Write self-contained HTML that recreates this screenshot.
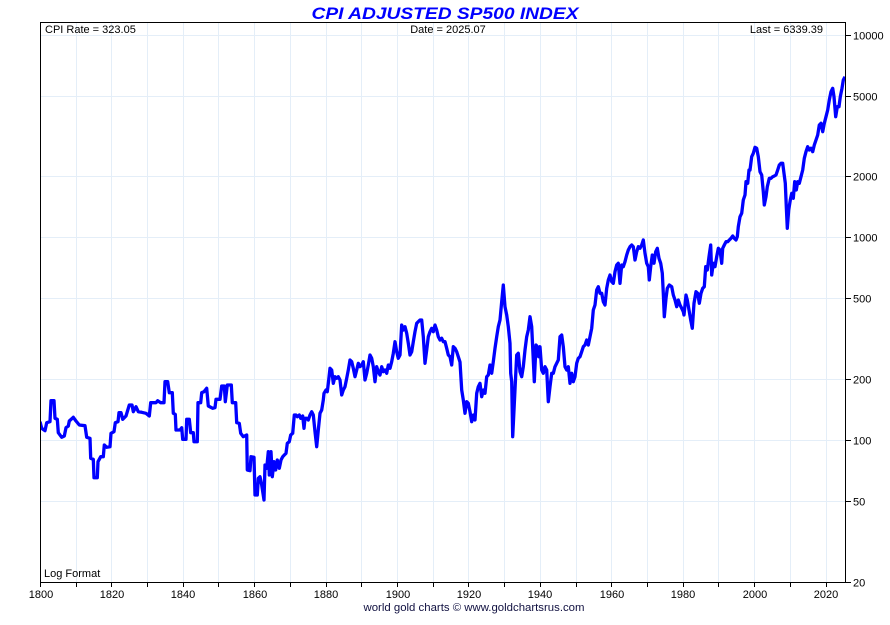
<!DOCTYPE html>
<html><head><meta charset="utf-8"><style>
html,body{margin:0;padding:0;background:#fff;}
svg{display:block;}
text{font-family:"Liberation Sans",Arial,sans-serif;}
</style></head><body>
<svg width="890" height="625" viewBox="0 0 890 625" xmlns="http://www.w3.org/2000/svg">
<defs><clipPath id="pc"><rect x="41" y="23" width="804" height="559"/></clipPath></defs>
<rect width="890" height="625" fill="#fff"/>
<g stroke="#e4eef8" stroke-width="1">
<line x1="40" y1="35.5" x2="845" y2="35.5"/>
<line x1="40" y1="96.5" x2="845" y2="96.5"/>
<line x1="40" y1="176.5" x2="845" y2="176.5"/>
<line x1="40" y1="237.5" x2="845" y2="237.5"/>
<line x1="40" y1="298.5" x2="845" y2="298.5"/>
<line x1="40" y1="379.5" x2="845" y2="379.5"/>
<line x1="40" y1="440.5" x2="845" y2="440.5"/>
<line x1="40" y1="501.5" x2="845" y2="501.5"/>
<line x1="76.5" y1="22" x2="76.5" y2="582"/>
<line x1="111.5" y1="22" x2="111.5" y2="582"/>
<line x1="147.5" y1="22" x2="147.5" y2="582"/>
<line x1="183.5" y1="22" x2="183.5" y2="582"/>
<line x1="218.5" y1="22" x2="218.5" y2="582"/>
<line x1="254.5" y1="22" x2="254.5" y2="582"/>
<line x1="290.5" y1="22" x2="290.5" y2="582"/>
<line x1="326.5" y1="22" x2="326.5" y2="582"/>
<line x1="361.5" y1="22" x2="361.5" y2="582"/>
<line x1="397.5" y1="22" x2="397.5" y2="582"/>
<line x1="433.5" y1="22" x2="433.5" y2="582"/>
<line x1="468.5" y1="22" x2="468.5" y2="582"/>
<line x1="504.5" y1="22" x2="504.5" y2="582"/>
<line x1="540.5" y1="22" x2="540.5" y2="582"/>
<line x1="576.5" y1="22" x2="576.5" y2="582"/>
<line x1="611.5" y1="22" x2="611.5" y2="582"/>
<line x1="647.5" y1="22" x2="647.5" y2="582"/>
<line x1="683.5" y1="22" x2="683.5" y2="582"/>
<line x1="718.5" y1="22" x2="718.5" y2="582"/>
<line x1="754.5" y1="22" x2="754.5" y2="582"/>
<line x1="790.5" y1="22" x2="790.5" y2="582"/>
<line x1="826.5" y1="22" x2="826.5" y2="582"/>
</g>
<polyline clip-path="url(#pc)" fill="none" stroke="#0000ff" stroke-width="3.3" stroke-linejoin="round" stroke-linecap="butt" points="40,421.7 41.7,428.3 45,430.7 46.7,422.7 50,421.7 51,400.7 54,400.7 55,418.3 57.3,419.3 58.3,432.7 61.7,437.3 64.3,436 66,427.7 68.3,426 69.3,421 73.3,417.3 76,421 79.3,425 85,425.7 86.7,437.3 90,438.3 90.7,458.3 93.3,459.3 94,477.7 97.3,477.7 98,461.7 100.7,456.7 103.3,456.7 104.3,445 106.7,447.3 110,446.7 111,433.3 114,431.7 115.3,422.7 118,421.7 119,412.7 121,412.7 122.7,419.3 126,416 129.3,405 132,405 133.3,411.7 136,406.7 138.3,411.7 141.7,412.3 146,413.3 149.3,416 150.7,402.7 156,402.7 157.7,400.7 160.7,402.7 164,402.7 165,381.7 167.7,381.7 169.3,392.7 172.3,392.7 173.3,413.3 175.3,414.3 176,430 180,430 181.7,427.7 182.7,439.3 186,439.3 186.7,419.3 189.3,419.3 190.7,432.7 193.3,432.7 194,441.7 197.3,441.7 198,402.7 200.7,402.7 201.7,392.7 204,391.7 206.7,388.3 208.3,406 212.7,408.3 215,407.7 216,399.3 220,399.3 221.7,386 224.3,386 225.3,401.7 227.3,385 231.3,385 232.3,402.7 235.7,402.7 236.7,422.7 239.3,423.3 240.7,433.3 243.3,436.7 246.7,435 247.3,470 250,470.7 251,456.7 254,457.3 255,495 257.3,495 258.3,478.3 260,476.7 261.7,485 264,500 265,465 266.7,468.3 268.3,451.7 269.3,475 271,451.7 272.3,476.7 274,461.7 275.7,470 277.3,460 279.3,468.3 281,460 282.7,456.7 284.3,455 286,453.3 287.3,443.3 289.3,441.7 290.7,435 292.7,433.3 294.3,415 296,415 297.3,416.7 299.3,415 300.7,418.3 302.7,416 304,428.3 305,418.3 306.7,418.3 308.3,420 310,415 311.7,411.7 313.3,415 315,431.7 316.7,446.7 318.3,430 320,413.3 321.7,410 323.3,400 324,393.3 326,390 327.3,391.7 328.7,380 330,368.3 331.7,370 333.3,383.3 335,376.7 336.7,378.3 338.3,376.7 340,380 341.7,395 343.3,390 345,386.7 346.7,378.3 348.3,370 350,360 351.7,361.7 353.3,368.3 355,376.7 356.7,370 358.3,363.3 360,366.7 361.7,365 363.3,361.7 365,380 366.7,373.3 368.3,365 370,355 371.7,358.3 373.3,366.7 375,381.7 376.7,366.7 378.3,371.7 380,375 381.7,366.7 383.3,371.7 385,370 386.7,373.3 388.3,365 390,368.3 391.7,361.7 393.3,353.3 395,341.7 396.7,351.7 398.3,358.3 400,355 401.7,325 403.3,330 405,326.7 406.7,333.3 408.3,343.3 410,355 411.7,351.7 413.3,341.7 415,331.7 416.7,323.3 418.3,321.7 420,320 421.7,320 423.3,336.7 425,363.3 426.7,350 428.3,336.7 430,331.7 431.7,328.3 433.3,331.7 435,325 436.7,330 438.3,336.7 440,340 441.7,338.3 443.3,341.7 445,341.7 446.7,348.3 448.3,355 450,356.7 451.7,365 453.3,346.7 455,348.3 456.7,351.7 458.3,356.7 460,362 461.7,390 463.3,400 465,413.3 466.7,401.7 468.3,403.3 470,411.7 471.7,421.7 473.3,415 475,420 476.7,393.3 478.3,386.7 480,383.3 481.7,396.7 483.3,390 485,393.3 486.7,376.7 488.3,375 490,365 491.7,373.3 493.3,361.7 495,348.3 496.7,336.7 498.3,326.7 500,320 501.7,301.7 503.3,285 505,306.7 506.7,315 508.3,326.7 510,343.3 510.7,373.3 511.7,381.7 512.7,436.7 514,410 515.3,383.3 516.7,355 518.3,353.3 520,371.7 521.7,376.7 523.3,366.7 525,350 526.7,336.7 528.3,330 530,316.7 531.7,326.7 533.3,360 534.3,381.7 536,345 537.3,346.7 538.7,356.7 540,346.7 541.7,370 543.3,373.3 545,366.7 546.7,370 548.3,401.7 550,386.7 551.7,373.3 553.3,373.3 555,366.7 556.7,363.3 558.3,360 560,336.7 561.7,335 563.3,346.7 565,366.7 566.7,370 568.3,366.7 570,383.3 571.7,373.3 573.3,381.7 575,376.7 576.7,363.3 578.3,358.3 580,356.7 581.7,351.7 583.3,346.7 585,345 586.7,340 588.3,345 590,336.7 591.7,328.3 593.3,310 595,305 596.7,290 598.3,286.7 600,293.3 601.7,293.3 603.3,301.7 605,305 606.7,288.3 608.3,280 610,275 611.7,281.7 613.3,283.3 615,271.7 616.7,265 618.3,263.3 620,283.3 621.7,265 623.3,266.7 625,261.7 626.7,255 628.3,250 630,246.7 631.7,245 633.3,246.7 635,260 636.7,251.7 638.3,246.7 640,248.3 641.7,245 643.3,240 645,253.3 646.7,263.3 648.3,266.7 649.3,280 650.7,266.7 652.3,255 654,263.3 655.7,251.7 657.3,248.3 659,258.3 660.7,263.3 662.3,273.3 663.3,293.3 664.3,316.7 666,298.3 667.3,288.3 669.3,285 671.7,286.7 673.3,295 675,300 676.7,306.7 678.3,300 680,305 681.7,308.3 683.3,311.7 684,315 686,295 687.3,300 689,310 690.7,320 692.3,328.3 694,303.3 696,291.7 697.7,293.3 699.3,303.3 701,293.3 702.7,288.3 704.3,286.7 705.7,266.7 707.3,270 709,256.7 710.7,245 711.7,275 713.3,263.3 715,266.7 716.7,256.7 718.3,248.3 720,250 721.7,263.3 722.7,248.3 724.3,245 726,241.7 727.7,241.7 729.3,240 731,238.3 732.7,236 734.3,238.3 736,240 737.3,236.7 738.3,226.7 740,216.7 741.7,213.3 743.3,200 745,195 746,181.7 747.7,183.3 749,170 750,170 751.7,156.7 753.3,153.3 755,147.3 756.7,148.3 758.3,156.7 760,171.7 761.7,175 763.3,191.7 764.3,205 766,196.7 767.3,186.7 769.3,178.3 771,178.3 772.7,176.7 774.3,176 776,175 777.7,170 779.3,165 781,163.3 782.7,163.3 784,173.3 785.3,183.3 786.3,206.7 787.3,228.3 788.7,210 790.3,200 791.7,193.3 793.3,198.3 794.7,181.7 796.3,190 797.7,181.7 799.3,183.3 801,176.7 802.7,170 804.3,158.3 806,151.7 807.7,146.7 809.3,150 811,148.3 812.7,151.7 814.3,145 816,140 817.7,135 819.3,125 821,123.3 822.7,131.7 824.3,123.3 826,116.7 827.7,110 829.3,100 831,91.7 832.7,88.3 834,96.7 835.7,116.7 837.3,106.7 839,106.7 840.3,96.7 842,88.3 843.3,80 845,76.7"/>
<rect x="40.5" y="22.5" width="805" height="560" fill="none" stroke="#000" stroke-width="1"/>
<g stroke="#000" stroke-width="1">
<line x1="846" y1="35.5" x2="851" y2="35.5"/>
<line x1="846" y1="96.5" x2="851" y2="96.5"/>
<line x1="846" y1="176.5" x2="851" y2="176.5"/>
<line x1="846" y1="237.5" x2="851" y2="237.5"/>
<line x1="846" y1="298.5" x2="851" y2="298.5"/>
<line x1="846" y1="379.5" x2="851" y2="379.5"/>
<line x1="846" y1="440.5" x2="851" y2="440.5"/>
<line x1="846" y1="501.5" x2="851" y2="501.5"/>
<line x1="846" y1="582.5" x2="851" y2="582.5"/>
<line x1="40.5" y1="582" x2="40.5" y2="587"/>
<line x1="76.5" y1="582" x2="76.5" y2="587"/>
<line x1="111.5" y1="582" x2="111.5" y2="587"/>
<line x1="147.5" y1="582" x2="147.5" y2="587"/>
<line x1="183.5" y1="582" x2="183.5" y2="587"/>
<line x1="218.5" y1="582" x2="218.5" y2="587"/>
<line x1="254.5" y1="582" x2="254.5" y2="587"/>
<line x1="290.5" y1="582" x2="290.5" y2="587"/>
<line x1="326.5" y1="582" x2="326.5" y2="587"/>
<line x1="361.5" y1="582" x2="361.5" y2="587"/>
<line x1="397.5" y1="582" x2="397.5" y2="587"/>
<line x1="433.5" y1="582" x2="433.5" y2="587"/>
<line x1="468.5" y1="582" x2="468.5" y2="587"/>
<line x1="504.5" y1="582" x2="504.5" y2="587"/>
<line x1="540.5" y1="582" x2="540.5" y2="587"/>
<line x1="576.5" y1="582" x2="576.5" y2="587"/>
<line x1="611.5" y1="582" x2="611.5" y2="587"/>
<line x1="647.5" y1="582" x2="647.5" y2="587"/>
<line x1="683.5" y1="582" x2="683.5" y2="587"/>
<line x1="718.5" y1="582" x2="718.5" y2="587"/>
<line x1="754.5" y1="582" x2="754.5" y2="587"/>
<line x1="790.5" y1="582" x2="790.5" y2="587"/>
<line x1="826.5" y1="582" x2="826.5" y2="587"/>
</g>
<g font-size="11" fill="#000">
<text x="853" y="39.5">10000</text>
<text x="853" y="100.5">5000</text>
<text x="853" y="180.5">2000</text>
<text x="853" y="241.5">1000</text>
<text x="853" y="302.5">500</text>
<text x="853" y="383.5">200</text>
<text x="853" y="444.5">100</text>
<text x="853" y="505.5">50</text>
<text x="853" y="586.5">20</text>
</g>
<g font-size="11" fill="#000" text-anchor="middle">
<text x="41" y="598">1800</text>
<text x="112" y="598">1820</text>
<text x="183" y="598">1840</text>
<text x="255" y="598">1860</text>
<text x="326" y="598">1880</text>
<text x="398" y="598">1900</text>
<text x="469" y="598">1920</text>
<text x="540" y="598">1940</text>
<text x="612" y="598">1960</text>
<text x="683" y="598">1980</text>
<text x="755" y="598">2000</text>
<text x="826" y="598">2020</text>
</g>
<text x="445" y="19" font-size="17" font-weight="bold" font-style="italic" fill="#0000ff" text-anchor="middle" textLength="267" lengthAdjust="spacingAndGlyphs">CPI ADJUSTED SP500 INDEX</text>
<text x="45" y="33" font-size="11" fill="#000">CPI Rate = 323.05</text>
<text x="448" y="33" font-size="11" fill="#000" text-anchor="middle">Date = 2025.07</text>
<text x="823" y="33" font-size="11" fill="#000" text-anchor="end">Last = 6339.39</text>
<text x="44" y="577" font-size="11" fill="#000">Log Format</text>
<text x="474" y="611" font-size="11" fill="#101040" text-anchor="middle" textLength="221" lengthAdjust="spacingAndGlyphs">world gold charts © www.goldchartsrus.com</text>
</svg>
</body></html>
